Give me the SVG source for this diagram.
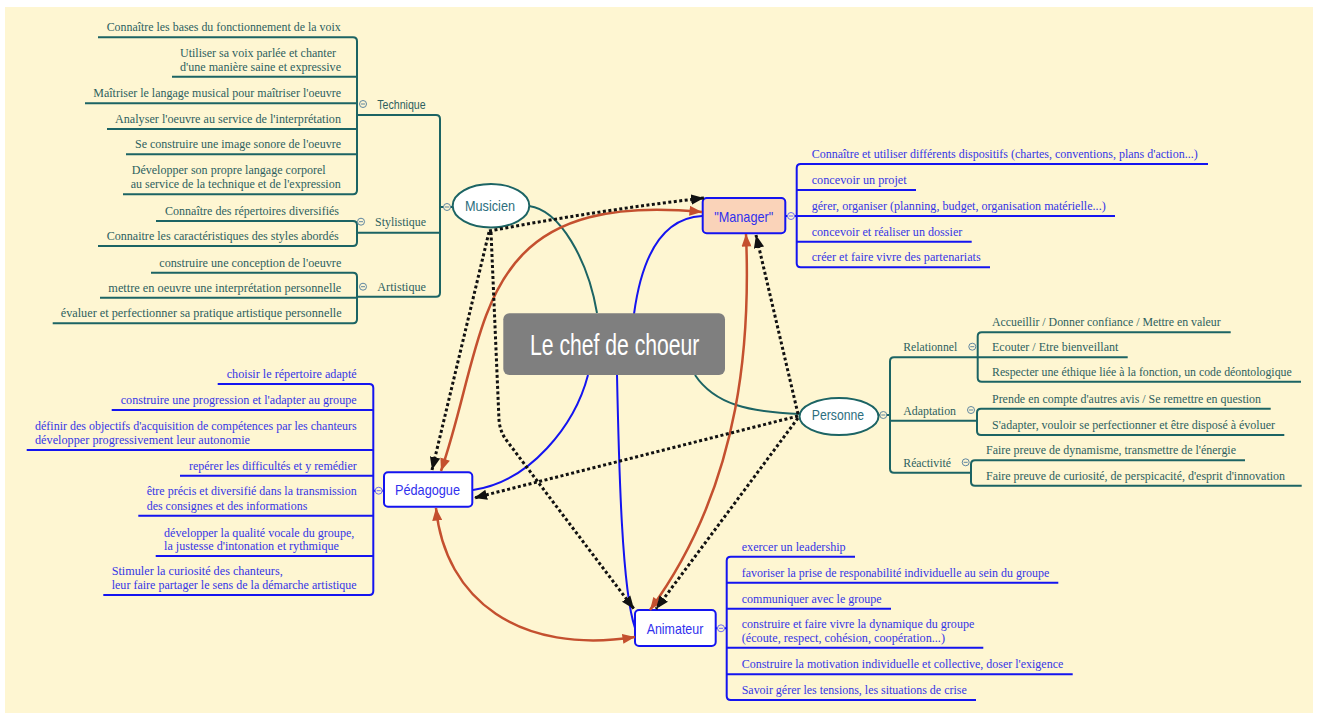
<svg xmlns="http://www.w3.org/2000/svg" width="1319" height="718" viewBox="0 0 1319 718">
<defs>
<style>
.tl{fill:none;stroke:#1C6464;stroke-width:2}
.bl{fill:none;stroke:#1414F0;stroke-width:2}
.tt{font-family:"Liberation Serif",serif;font-size:13px;fill:#2D5F5F}
.bt{font-family:"Liberation Serif",serif;font-size:13px;fill:#3535E6}
.st{font-family:"Liberation Sans",sans-serif;font-size:12.5px;fill:#2D5F5F}
.nt{font-family:"Liberation Sans",sans-serif;font-size:15px;text-anchor:middle}
.rel{fill:none;stroke:#C4502F;stroke-width:2.5;marker-start:url(#ar);marker-end:url(#ar)}
.dot{fill:none;stroke:#111;stroke-width:3;stroke-dasharray:3 2.5;marker-end:url(#ak)}
.tg{fill:none;stroke:#5F86A0;stroke-width:1}
.tgb{fill:none;stroke:#6A6AF0;stroke-width:1}
</style>
<marker id="ar" viewBox="0 0 10 8" refX="10" refY="4" markerWidth="13" markerHeight="10" markerUnits="userSpaceOnUse" orient="auto-start-reverse"><path d="M0,0 L10,4 L0,8 z" fill="#C4502F"/></marker>
<marker id="ak" viewBox="0 0 10 8" refX="10" refY="4" markerWidth="13" markerHeight="11" markerUnits="userSpaceOnUse" orient="auto"><path d="M0,0 L10,4 L0,8 z" fill="#111"/></marker>
<g id="tog"><circle r="3.5"/><path d="M-2 0H2"/></g>
</defs>
<rect x="0" y="0" width="1319" height="718" fill="#ffffff"/>
<rect x="5" y="7" width="1308" height="706" fill="#FEF6D2"/>

<g id="connectors">
<path class="tl" d="M529 206 C560 210 588 260 597 313" stroke-width="2.5"/>
<path class="bl" d="M634 314 C642 255 662 218 702 216" stroke-width="2.8"/>
<path class="tl" d="M695 375 C715 405 750 412 800 414" stroke-width="2.5"/>
<path class="bl" d="M588 375 C575 425 530 482 473 490" stroke-width="2.5"/>
<path class="bl" d="M617 375 C619 470 622 590 635 628" stroke-width="2.5"/>
</g>

<g id="musicien-branch">
<path class="tl" d="M98 37.3 H353 Q357 37.3 357 41.3 V190.3 Q357 194.3 353 194.3 H123"/>
<path class="tl" d="M172 76.7 H357 M85 103.3 H357 M107 129 H357 M126 154.3 H357"/>
<path class="tl" d="M156 221 H353 Q357 221 357 225 V242 Q357 246 353 246 H98"/>
<path class="tl" d="M151 272.7 H353 Q357 272.7 357 276.7 V319.3 Q357 323.3 353 323.3 H52.7 M100 297.7 H357"/>
<path class="tl" d="M357 115 H436 Q440 115 440 119 V292.7 Q440 296.7 436 296.7 H357 M357 232.7 H440 M440 207 H443.5 M450.5 207 H453"/>
<use href="#tog" x="447" y="207" class="tg"/>
<use href="#tog" x="363" y="104" class="tg"/>
<use href="#tog" x="361" y="221.7" class="tg"/>
<use href="#tog" x="363" y="286.7" class="tg"/>
<text class="st" x="377.3" y="108.5" textLength="48.3" lengthAdjust="spacingAndGlyphs">Technique</text>
<text class="tt" x="375" y="226" textLength="51" lengthAdjust="spacingAndGlyphs">Stylistique</text>
<text class="tt" x="377.3" y="291" textLength="48.7" lengthAdjust="spacingAndGlyphs">Artistique</text>
<text class="tt" x="106.7" y="31.3" textLength="234" lengthAdjust="spacingAndGlyphs">Connaître les bases du fonctionnement de la voix</text>
<text class="tt" x="180" y="56.7" textLength="156" lengthAdjust="spacingAndGlyphs">Utiliser sa voix parlée et chanter</text>
<text class="tt" x="180" y="70.7" textLength="161" lengthAdjust="spacingAndGlyphs">d'une manière saine et expressive</text>
<text class="tt" x="93.3" y="97.3" textLength="247.7" lengthAdjust="spacingAndGlyphs">Maîtriser le langage musical pour maîtriser l'oeuvre</text>
<text class="tt" x="115" y="123" textLength="226" lengthAdjust="spacingAndGlyphs">Analyser l'oeuvre au service de l'interprétation</text>
<text class="tt" x="135" y="148.3" textLength="206" lengthAdjust="spacingAndGlyphs">Se construire une image sonore de l'oeuvre</text>
<text class="tt" x="131.7" y="174.3" textLength="194" lengthAdjust="spacingAndGlyphs">Développer son propre langage corporel</text>
<text class="tt" x="130.7" y="188.3" textLength="210" lengthAdjust="spacingAndGlyphs">au service de la technique et de l'expression</text>
<text class="tt" x="165" y="215" textLength="174" lengthAdjust="spacingAndGlyphs">Connaître des répertoires diversifiés</text>
<text class="tt" x="106.7" y="240" textLength="232" lengthAdjust="spacingAndGlyphs">Connaitre les caractéristiques des styles abordés</text>
<text class="tt" x="159.3" y="266.7" textLength="182" lengthAdjust="spacingAndGlyphs">construire une conception de l'oeuvre</text>
<text class="tt" x="108.3" y="291.7" textLength="233" lengthAdjust="spacingAndGlyphs">mettre en oeuvre une interprétation personnelle</text>
<text class="tt" x="60.7" y="317.3" textLength="281" lengthAdjust="spacingAndGlyphs">évaluer et perfectionner sa pratique artistique personnelle</text>
</g>

<g id="manager-branch">
<path class="bl" d="M1208 164 H800.7 Q796.7 164 796.7 168 V263.3 Q796.7 267.3 800.7 267.3 H990"/>
<path class="bl" d="M796.7 190 H916 M796.7 216 H1115 M796.7 241.7 H971.7 M785 216 H787.5 M794.5 216 H796.7"/>
<use href="#tog" x="791" y="216" class="tgb"/>
<text class="bt" x="811.7" y="158" textLength="386" lengthAdjust="spacingAndGlyphs">Connaître et utiliser différents dispositifs (chartes, conventions, plans d'action...)</text>
<text class="bt" x="811.7" y="184" textLength="95" lengthAdjust="spacingAndGlyphs">concevoir un projet</text>
<text class="bt" x="811.7" y="210" textLength="294" lengthAdjust="spacingAndGlyphs">gérer, organiser (planning, budget, organisation matérielle...)</text>
<text class="bt" x="811.7" y="235.7" textLength="150.6" lengthAdjust="spacingAndGlyphs">concevoir et réaliser un dossier</text>
<text class="bt" x="811.7" y="261.3" textLength="169" lengthAdjust="spacingAndGlyphs">créer et faire vivre des partenariats</text>
</g>

<g id="personne-branch">
<path class="tl" d="M977.7 357.3 H894 Q890 357.3 890 361.3 V468.7 Q890 472.7 894 472.7 H971 M890 420.7 H977 M878.5 415 H879.8 M886.8 415 H890"/>
<path class="tl" d="M1230.7 332.3 H981.7 Q977.7 332.3 977.7 336.3 V377.7 Q977.7 381.7 981.7 381.7 H1301 M977.7 357.3 H1127.7"/>
<path class="tl" d="M1270.7 408.7 H981 Q977 408.7 977 412.7 V431 Q977 435 981 435 H1284.3"/>
<path class="tl" d="M1245 460.3 H975 Q971 460.3 971 464.3 V481.7 Q971 485.7 975 485.7 H1301.7"/>
<use href="#tog" x="883.3" y="415" class="tg"/>
<use href="#tog" x="972.3" y="346.7" class="tg"/>
<use href="#tog" x="971" y="410" class="tg"/>
<use href="#tog" x="965.7" y="462.3" class="tg"/>
<text class="tt" x="903.3" y="350.5" textLength="54" lengthAdjust="spacingAndGlyphs">Relationnel</text>
<text class="tt" x="903.3" y="414.5" textLength="52.7" lengthAdjust="spacingAndGlyphs">Adaptation</text>
<text class="tt" x="903.3" y="466.5" textLength="47.7" lengthAdjust="spacingAndGlyphs">Réactivité</text>
<text class="tt" x="992" y="326.3" textLength="228.7" lengthAdjust="spacingAndGlyphs">Accueillir / Donner confiance  / Mettre en valeur</text>
<text class="tt" x="992" y="351.3" textLength="126.3" lengthAdjust="spacingAndGlyphs">Ecouter / Etre bienveillant</text>
<text class="tt" x="992" y="375.7" textLength="299.7" lengthAdjust="spacingAndGlyphs" style="font-size:12px">Respecter une éthique liée à la fonction, un code déontologique</text>
<text class="tt" x="992" y="402.7" textLength="269" lengthAdjust="spacingAndGlyphs">Prende en compte d'autres avis / Se remettre en question</text>
<text class="tt" x="992" y="429" textLength="283" lengthAdjust="spacingAndGlyphs">S'adapter, vouloir se perfectionner et être disposé à évoluer</text>
<text class="tt" x="986" y="454.3" textLength="250" lengthAdjust="spacingAndGlyphs">Faire preuve de dynamisme, transmettre de l'énergie</text>
<text class="tt" x="986" y="479.7" textLength="299" lengthAdjust="spacingAndGlyphs" style="font-size:12.5px">Faire preuve de curiosité, de perspicacité, d'esprit d'innovation</text>
</g>

<g id="pedagogue-branch">
<path class="bl" d="M217.7 384 H369.3 Q373.3 384 373.3 388 V591 Q373.3 595 369.3 595 H103.3"/>
<path class="bl" d="M111.7 410 H373.3 M26.7 450 H373.3 M180 475.7 H373.3 M138.3 515.7 H373.3 M155.7 556 H373.3 M373.3 490.7 H375.2 M382.2 490.7 H384"/>
<use href="#tog" x="378.7" y="490.7" class="tgb"/>
<text class="bt" x="226.7" y="378" textLength="130" lengthAdjust="spacingAndGlyphs">choisir le répertoire adapté</text>
<text class="bt" x="120.7" y="404" textLength="236" lengthAdjust="spacingAndGlyphs">construire une progression et l'adapter au groupe</text>
<text class="bt" x="35" y="429.5" textLength="321.7" lengthAdjust="spacingAndGlyphs">définir des objectifs d'acquisition de compétences par les chanteurs</text>
<text class="bt" x="35" y="444" textLength="215" lengthAdjust="spacingAndGlyphs">développer progressivement leur autonomie</text>
<text class="bt" x="189" y="469.7" textLength="167.7" lengthAdjust="spacingAndGlyphs">repérer les difficultés et y remédier</text>
<text class="bt" x="146.7" y="495.2" textLength="210" lengthAdjust="spacingAndGlyphs">être précis et diversifié dans la transmission</text>
<text class="bt" x="146.7" y="509.7" textLength="160.6" lengthAdjust="spacingAndGlyphs">des consignes et des informations</text>
<text class="bt" x="164" y="536.5" textLength="190.3" lengthAdjust="spacingAndGlyphs">développer la qualité vocale du groupe,</text>
<text class="bt" x="164" y="550" textLength="175" lengthAdjust="spacingAndGlyphs">la justesse d'intonation et rythmique</text>
<text class="bt" x="111.7" y="575.3" textLength="171" lengthAdjust="spacingAndGlyphs">Stimuler la curiosité des chanteurs,</text>
<text class="bt" x="111.7" y="589" textLength="245" lengthAdjust="spacingAndGlyphs">leur faire partager le sens de la démarche artistique</text>
</g>

<g id="animateur-branch">
<path class="bl" d="M855 556.7 H730.7 Q726.7 556.7 726.7 560.7 V696 Q726.7 700 730.7 700 H976"/>
<path class="bl" d="M726.7 582.7 H1058.3 M726.7 608.7 H891 M726.7 647.7 H983.3 M726.7 674.3 H1072.7 M715.7 628.3 H717.5 M724.5 628.3 H726.7"/>
<use href="#tog" x="721" y="628.3" class="tgb"/>
<text class="bt" x="741.7" y="550.7" textLength="104" lengthAdjust="spacingAndGlyphs">exercer un leadership</text>
<text class="bt" x="741.7" y="576.7" textLength="307.6" lengthAdjust="spacingAndGlyphs">favoriser la prise de responabilité individuelle au sein du groupe</text>
<text class="bt" x="741.7" y="602.7" textLength="140" lengthAdjust="spacingAndGlyphs">communiquer avec le groupe</text>
<text class="bt" x="741.7" y="628" textLength="232.6" lengthAdjust="spacingAndGlyphs">construire et faire vivre la dynamique du groupe</text>
<text class="bt" x="741.7" y="641.7" textLength="203.3" lengthAdjust="spacingAndGlyphs">(écoute, respect, cohésion, coopération...)</text>
<text class="bt" x="741.7" y="668.3" textLength="321.6" lengthAdjust="spacingAndGlyphs">Construire la motivation individuelle et collective, doser l'exigence</text>
<text class="bt" x="741.7" y="694" textLength="225" lengthAdjust="spacingAndGlyphs">Savoir gérer les tensions, les situations de crise</text>
</g>

<g id="center">
<rect x="503.3" y="313.3" width="221.7" height="61.7" rx="6" fill="#7F7F7F"/>
<text x="614.7" y="354.5" font-family="'Liberation Sans',sans-serif" font-size="29" fill="#ffffff" text-anchor="middle" textLength="169.3" lengthAdjust="spacingAndGlyphs">Le chef de choeur</text>
</g>
<g id="musicien">
<ellipse cx="491" cy="205.7" rx="38.3" ry="21.7" fill="#ffffff" stroke="#1C6464" stroke-width="2"/>
<text class="nt" x="490" y="211" fill="#2C6E7E" textLength="50" lengthAdjust="spacingAndGlyphs">Musicien</text>
</g>
<g id="manager">
<rect x="702.7" y="198" width="82.6" height="35.3" rx="4" fill="#FAD3B9" stroke="#1414F0" stroke-width="2"/>
<text class="nt" x="743.7" y="221.5" fill="#3030EE" textLength="59" lengthAdjust="spacingAndGlyphs">"Manager"</text>
</g>
<g id="personne">
<ellipse cx="839" cy="416.5" rx="39.5" ry="18.5" fill="#ffffff" stroke="#1C6464" stroke-width="2"/>
<text class="nt" x="838" y="419.5" fill="#2C6E7E" textLength="52.3" lengthAdjust="spacingAndGlyphs">Personne</text>
</g>
<g id="pedagogue">
<rect x="384" y="472.3" width="88.3" height="34.4" rx="4" fill="#ffffff" stroke="#1414F0" stroke-width="2"/>
<text class="nt" x="427.5" y="494.5" fill="#3030EE" textLength="65" lengthAdjust="spacingAndGlyphs">Pédagogue</text>
</g>
<g id="animateur">
<rect x="635" y="610" width="80.7" height="36" rx="4" fill="#ffffff" stroke="#1414F0" stroke-width="2"/>
<text class="nt" x="675" y="633.5" fill="#3030EE" textLength="56.7" lengthAdjust="spacingAndGlyphs">Animateur</text>
</g>

<g id="relations">
<path class="rel" d="M441 471 C490 330 470 190 702 212"/>
<path class="rel" d="M746 234 C750 330 745 480 650 610"/>
<path class="rel" d="M436 508 C445 600 520 655 635 637"/>
<path class="dot" d="M489 231 Q600 210 704 198"/>
<path class="dot" d="M489 232 L432 470"/>
<path class="dot" d="M491 232 L499 420 Q500 432 507 441 L634 609"/>
<path class="dot" d="M798 414 L756 235"/>
<path class="dot" d="M798 416 L474 498"/>
<path class="dot" d="M798 418 L656 609"/>
</g>
</svg>
